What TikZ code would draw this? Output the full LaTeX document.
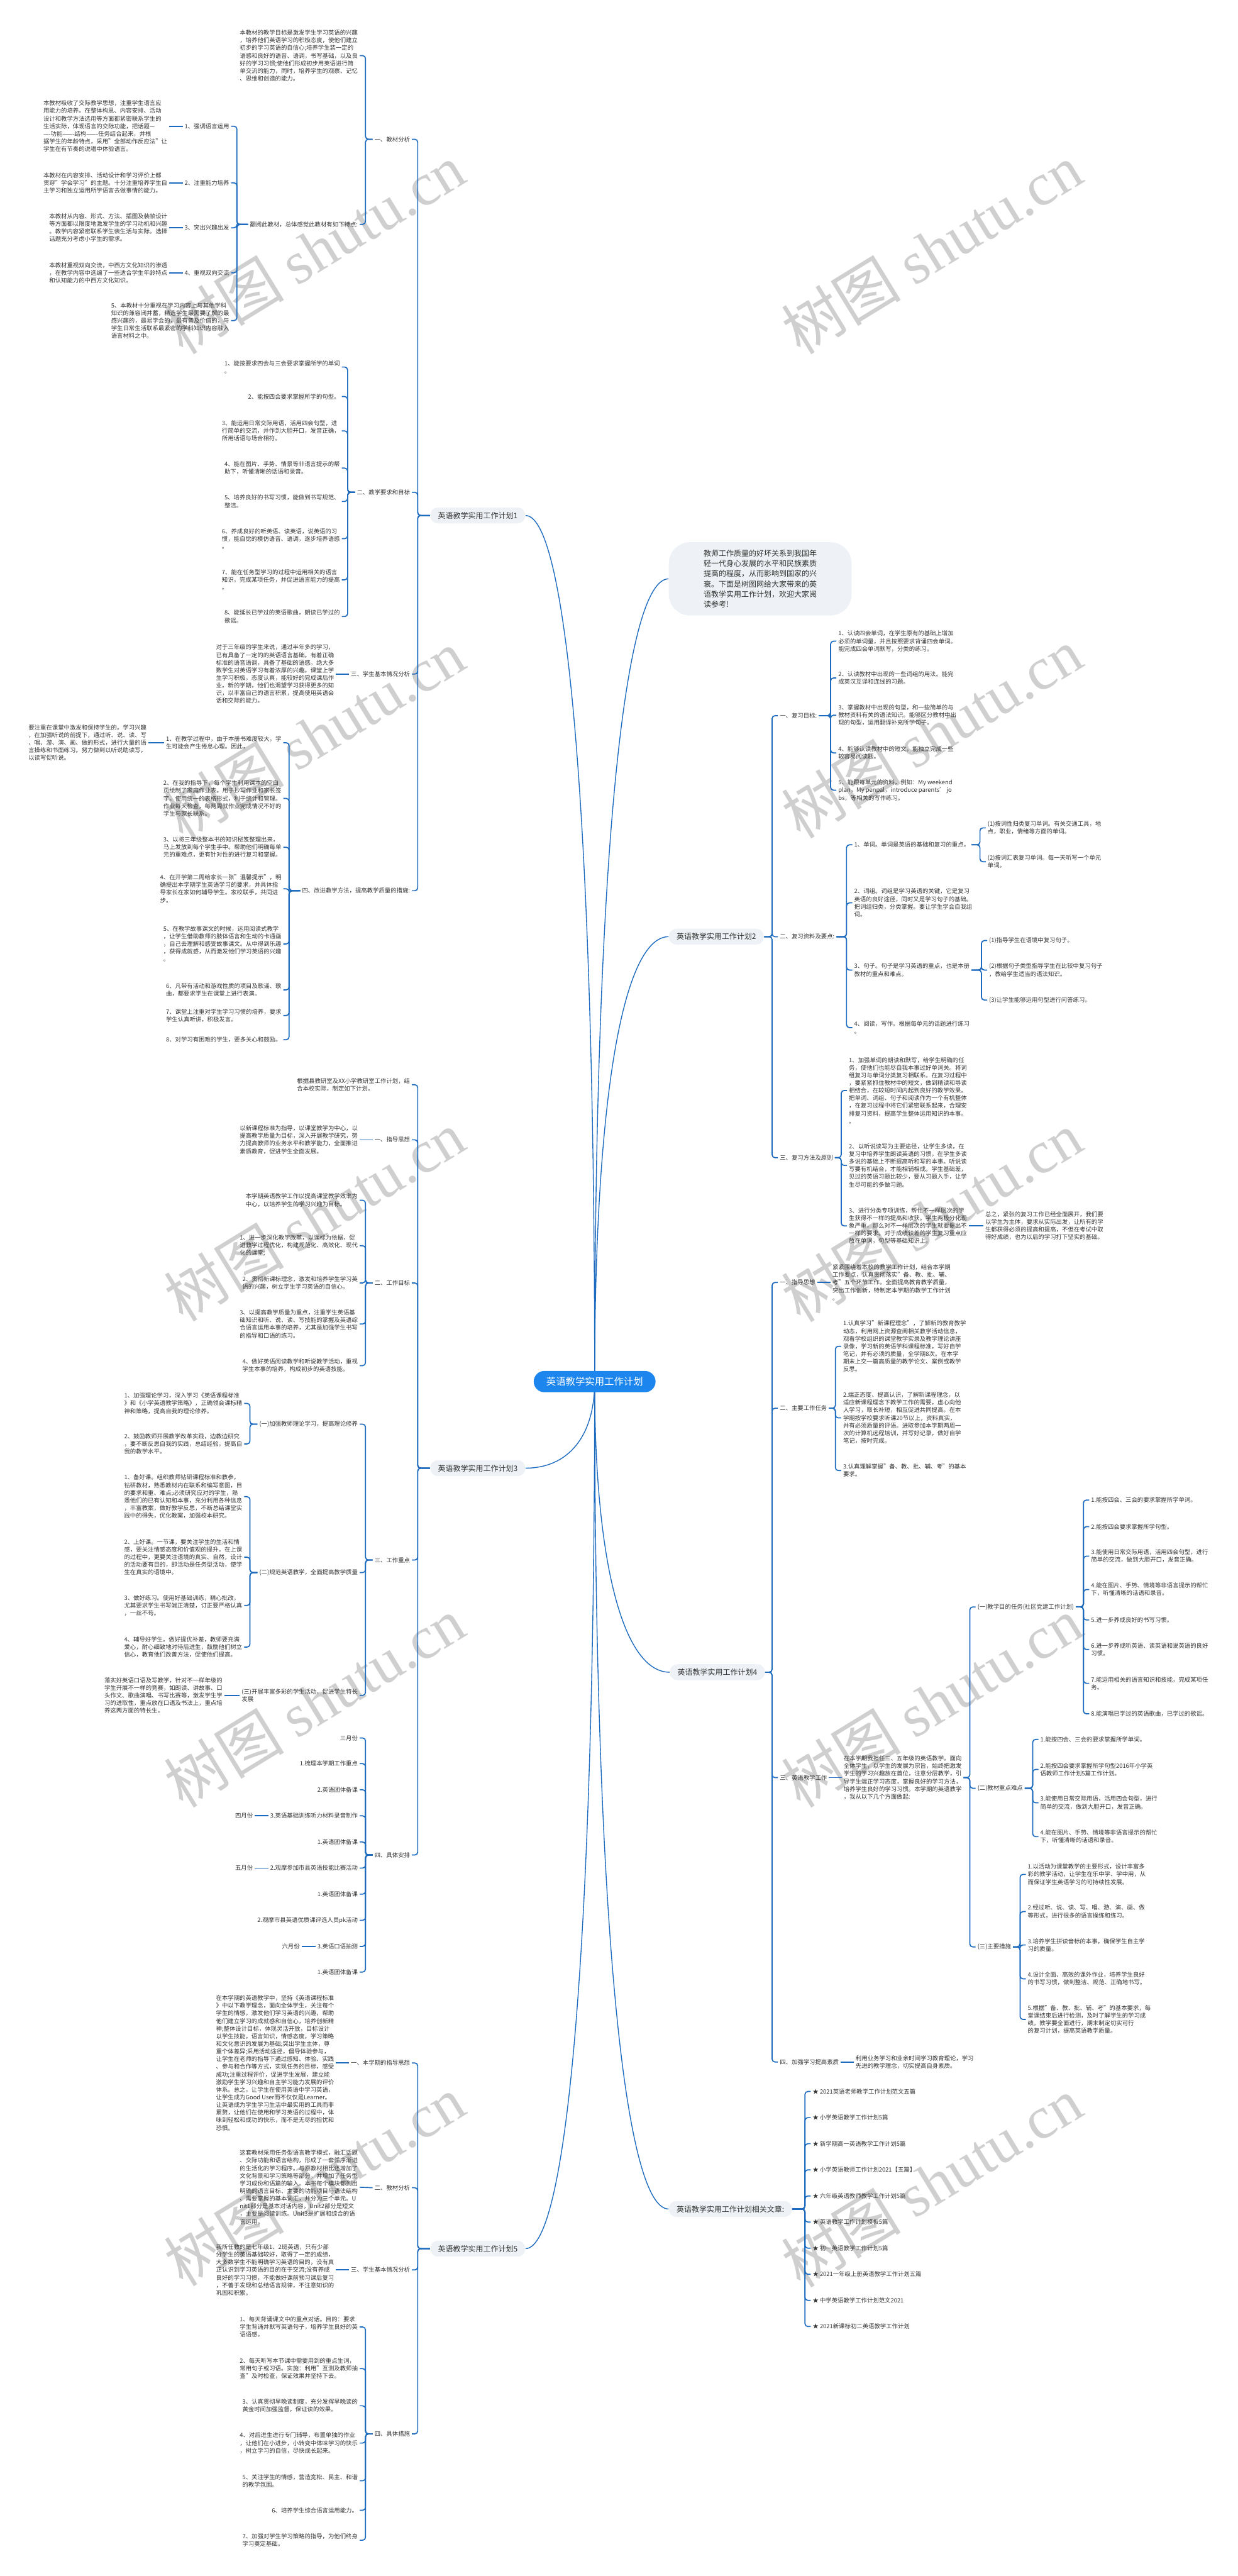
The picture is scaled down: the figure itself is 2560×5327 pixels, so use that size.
\documentclass[tikz,border=0pt]{standalone}
\usepackage{fontspec}
\setmainfont{Noto Sans CJK SC}
\newfontfamily\wmfont{Liberation Serif}
\usepackage{xcolor}
\usepackage{tikz}
\usetikzlibrary{backgrounds}
\definecolor{linkblue}{HTML}{1D6BBF}
\definecolor{rootblue}{HTML}{1C86EE}
\definecolor{boxgray}{HTML}{EEF1F5}
\definecolor{txtgray}{HTML}{333333}
\definecolor{wmgray}{HTML}{CFCFCF}

\begin{document}
\begin{tikzpicture}[x=0.5pt, y=-0.5pt,
    txt/.style={font=\fontsize{6.1pt}{7.9pt}\selectfont, text=txtgray, align=left, inner sep=0pt, outer sep=2pt},
    topicbox/.style={fill=boxgray, rounded corners=8pt, font=\fontsize{7.8pt}{9pt}\selectfont, text=txtgray, inner xsep=8pt, inner ysep=0pt, minimum height=16.5pt},
    introbox/.style={fill=boxgray, rounded corners=22pt, font=\fontsize{7.8pt}{10.5pt}\selectfont, text=txtgray, align=left, inner xsep=36pt, inner ysep=8pt},
    rootbox/.style={fill=rootblue, text=white, rounded corners=11pt, font=\fontsize{10pt}{12pt}\selectfont, inner xsep=13pt, minimum height=22pt},
    conn/.style={draw=linkblue, line width=1.1pt, rounded corners=3pt},
    rootconn/.style={draw=linkblue, line width=0.9pt},
    wmark/.style={text=wmgray, rotate=31.5, inner sep=0pt, font=\fontsize{62pt}{62pt}\selectfont}]
  \useasboundingbox (0,0) rectangle (2560,5327);

  % centre
  \node[rootbox] (root) at (1230,2857) {英语教学实用工作计划};

  % plan 1
  \node[topicbox, anchor=east] (p1) at (1087,1066) {英语教学实用工作计划1};
  \node[txt, anchor=east] (p1a) at (852,288) {一、教材分析};
  \node[txt, anchor=east] (p1b) at (852,1018) {二、教学要求和目标};
  \node[txt, anchor=east] (p1c) at (852,1394) {三、学生基本情况分析};
  \node[txt, anchor=east] (p1d) at (852,1842) {四、改进教学方法，提高教学质量的措施:};
  \node[txt, anchor=east] (p1a1) at (744,115) {本教材的教学目标是激发学生学习英语的兴趣\\，培养他们英语学习的积极态度，使他们建立\\初步的学习英语的自信心;培养学生装一定的\\语感和良好的语音、语调，书写基础，以及良\\好的学习习惯;使他们形成初步用英语进行简\\单交流的能力，同时，培养学生的观察、记忆\\、思维和创造的能力。};
  \node[txt, anchor=east] (p1a2) at (744,464) {翻阅此教材，总体感觉此教材有如下特点:};
  \node[txt, anchor=east] (p1a2a) at (478,261) {1、强调语言运用};
  \node[txt, anchor=east] (p1a2b) at (478,378) {2、注重能力培养};
  \node[txt, anchor=east] (p1a2c) at (478,471) {3、突出兴趣出发};
  \node[txt, anchor=east] (p1a2d) at (478,564) {4、重视双向交流};
  \node[txt, anchor=east] (p1a2e) at (478,663) {5、本教材十分重视在学习内容上与其他学科\\知识的兼容闭并蓄，精选学生最需要了解的最\\感兴趣的，最易学会的，最有普及价值的，与\\学生日常生活联系最紧密的学科知识内容融入\\语言材料之中。};
  \node[txt, anchor=east] (p1a2a1) at (350,261) {本教材吸收了交际教学思想，注重学生语言应\\用能力的培养。在整体构思、内容安排、活动\\设计和教学方法选用等方面都紧密联系学生的\\生活实际，体现语言的交际功能，把话题—\\—-功能——-结构——-任务结合起来，并根\\据学生的年龄特点，采用"全部动作反应法"让\\学生在有节奏的说唱中体验语言。};
  \node[txt, anchor=east] (p1a2b1) at (350,378) {本教材在内容安排、活动设计和学习评价上都\\贯穿"学会学习"的主题。十分注重培养学生自\\主学习和独立运用所学语言去做事情的能力。};
  \node[txt, anchor=east] (p1a2c1) at (350,471) {本教材从内容、形式、方法、插图及装帧设计\\等方面都以限度地激发学生的学习动机和兴趣\\。教学内容紧密联系学生装生活与实际。选择\\话题充分考虑小学生的需求。};
  \node[txt, anchor=east] (p1a2d1) at (350,564) {本教材重视双向交流，中西方文化知识的渗透\\，在教学内容中选编了一些适合学生年龄特点\\和认知能力的中西方文化知识。};
  \node[txt, anchor=east] (p1b1) at (707,759) {1、能按要求四会与三会要求掌握所学的单词\\。};
  \node[txt, anchor=east] (p1b2) at (707,820) {2、能按四会要求掌握所学的句型。};
  \node[txt, anchor=east] (p1b3) at (707,891) {3、能运用日常交际用语，活用四会句型，进\\行简单的交流，并作到大胆开口，发音正确，\\所用话语与场合相符。};
  \node[txt, anchor=east] (p1b4) at (707,968) {4、能在图片、手势、情景等非语言提示的帮\\助下，听懂清晰的话语和录音。};
  \node[txt, anchor=east] (p1b5) at (707,1037) {5、培养良好的书写习惯，能做到书写规范、\\整洁。};
  \node[txt, anchor=east] (p1b6) at (707,1114) {6、养成良好的听英语、读英语，说英语的习\\惯，能自觉的模仿语音、语调，逐步培养语感\\。};
  \node[txt, anchor=east] (p1b7) at (707,1199) {7、能在任务型学习的过程中运用相关的语言\\知识，完成某项任务，并促进语言能力的提高\\。};
  \node[txt, anchor=east] (p1b8) at (707,1275) {8、能延长已学过的英语歌曲，朗读已学过的\\歌谣。};
  \node[txt, anchor=east] (p1c1) at (695,1394) {对于三年级的学生来说，通过半年多的学习，\\已有具备了一定的的英语语言基础。有着正确\\标准的语音语调，具备了基础的语感。绝大多\\数学生对英语学习有着浓厚的兴趣。课堂上学\\生学习积极，态度认真，能较好的完成课后作\\业。新的学期，他们也渴望学习获得更多的知\\识，以丰富自己的语言积累，提高使用英语会\\话和交际的能力。};
  \node[txt, anchor=east] (p1d1) at (586,1536) {1、在教学过程中，由于本册书难度较大，学\\生可能会产生倦怠心理。因此，};
  \node[txt, anchor=east] (p1d1a) at (307,1536) {要注重在课堂中激发和保持学生的。学习兴趣\\，在加强听说的前提下，通过听、说、读、写\\、唱、游、演、画、做的形式，进行大量的语\\言操练和书面练习。努力做到以听说助读写，\\以读写促听说。};
  \node[txt, anchor=east] (p1d2) at (586,1651) {2、在我的指导下，每个学生利用课本的空白\\页绘制了家庭作业表。用于抄写作业和家长签\\字。使用统一的表格形式，利于统计和管理。\\作业每天检查，每两周就作业完成情况不好的\\学生与家长联系。};
  \node[txt, anchor=east] (p1d3) at (586,1752) {3、以将三年级整本书的知识秘笈整理出来，\\马上发放到每个学生手中。帮助他们明确每单\\元的重难点，更有针对性的进行复习和掌握。};
  \node[txt, anchor=east] (p1d4) at (586,1838) {4、在开学第二周给家长一张"温馨提示"，明\\确提出本学期学生英语学习的要求，并具体指\\导家长在家如何辅导学生。家校联手，共同进\\步。};
  \node[txt, anchor=east] (p1d5) at (586,1952) {5、在教学故事课文的时候，运用阅读式教学\\，让学生借助教师的肢体语言和生动的卡通画\\，自己去理解和感受故事课文。从中得到乐趣\\，获得成就感，从而激发他们学习英语的兴趣\\。};
  \node[txt, anchor=east] (p1d6) at (586,2047) {6、凡带有活动和游戏性质的项目及歌谣、歌\\曲，都要求学生在课堂上进行表演。};
  \node[txt, anchor=east] (p1d7) at (586,2100) {7、课堂上注重对学生学习习惯的培养，要求\\学生认真听讲，积极发言。};
  \node[txt, anchor=east] (p1d8) at (586,2150) {8、对学习有困难的学生，要多关心和鼓励。};

  % plan 3
  \node[topicbox, anchor=east] (p3) at (1087,3036) {英语教学实用工作计划3};
  \node[txt, anchor=east] (p3t) at (852,2243) {根据县教研室及XX小学教研室工作计划，结\\合本校实际，制定如下计划。};
  \node[txt, anchor=east] (p3a) at (852,2357) {一、指导思想};
  \node[txt, anchor=east] (p3b) at (852,2653) {二、工作目标};
  \node[txt, anchor=east] (p3c) at (852,3226) {三、工作重点};
  \node[txt, anchor=east] (p3d) at (852,3836) {四、具体安排};
  \node[txt, anchor=east] (p3a1) at (744,2357) {以新课程标准为指导，以课堂教学为中心，以\\提高教学质量为目标，深入开展教学研究，努\\力提高教师的业务水平和教学能力，全面推进\\素质教育，促进学生全面发展。};
  \node[txt, anchor=east] (p3b0) at (744,2482) {本学期英语教学工作以提高课堂教学效率为\\中心，以培养学生的学习兴趣为目标。};
  \node[txt, anchor=east] (p3b1) at (744,2576) {1、进一步深化教学改革，以课标为依据，促\\进教学过程优化，构建规范化、高效化、现代\\化的课堂;};
  \node[txt, anchor=east] (p3b2) at (744,2653) {2、贯彻新课标理念，激发和培养学生学习英\\语的兴趣，树立学生学习英语的自信心。};
  \node[txt, anchor=east] (p3b3) at (744,2738) {3、以提高教学质量为重点，注重学生英语基\\础知识和听、说、读、写技能的掌握及英语综\\合语言运用本事的培养，尤其是加强学生书写\\的指导和口语的练习。};
  \node[txt, anchor=east] (p3b4) at (744,2824) {4、做好英语阅读教学和听说教学活动，重视\\学生本事的培养，构成初步的英语技能。};
  \node[txt, anchor=east] (p3c1) at (744,2945) {(一)加强教师理论学习，提高理论修养};
  \node[txt, anchor=east] (p3c2) at (744,3252) {(二)规范英语教学，全面提高教学质量};
  \node[txt, anchor=east] (p3c3) at (744,3506) {(三)开展丰富多彩的学生活动，促进学生特长\\发展};
  \node[txt, anchor=east] (p3c1a) at (505,2902) {1、加强理论学习，深入学习《英语课程标准\\》和《小学英语教学策略》，正确领会课标精\\神和策略，提高自我的理论修养。};
  \node[txt, anchor=east] (p3c1b) at (505,2986) {2、鼓励教师开展教学改革实践，边教边研究\\，要不断反思自我的实践，总结经验，提高自\\我的教学水平。};
  \node[txt, anchor=east] (p3c2a) at (505,3095) {1、备好课。组织教师钻研课程标准和教参，\\钻研教材，熟悉教材内在联系和编写意图，目\\的要求和重、难点;必须研究应对的学生，熟\\悉他们的已有认知和本事，充分利用各种信息\\，丰富教案，做好教学反思，不断总结课堂实\\践中的得失，优化教案，加强校本研究。};
  \node[txt, anchor=east] (p3c2b) at (505,3220) {2、上好课。一节课，要关注学生的生活和情\\感，要关注情感态度和价值观的提升。在上课\\的过程中，更要关注语境的真实、自然，设计\\的活动要有目的，即活动是任务型活动，使学\\生在真实的语境中。};
  \node[txt, anchor=east] (p3c2c) at (505,3320) {3、做好练习。使用好基础训练，精心批改，\\尤其要求学生书写端正清楚，订正要严格认真\\，一丝不苟。};
  \node[txt, anchor=east] (p3c2d) at (505,3406) {4、辅导好学生。做好提优补差，教师要充满\\爱心，耐心细致地对待后进生，鼓励他们树立\\信心，教育他们改善方法，促使他们提高。};
  \node[txt, anchor=east] (p3c3a) at (464,3506) {落实好英语口语及写教学，针对不一样年级的\\学生开展不一样的竞赛，如朗读、讲故事、口\\头作文、歌曲演唱、书写比赛等，激发学生学\\习的进取性，重点放在口语及书法上，重点培\\养这两方面的特长生。};
  \node[txt, anchor=east] (p3d1) at (744,3594) {三月份};
  \node[txt, anchor=east] (p3d2) at (744,3647) {1.梳理本学期工作重点};
  \node[txt, anchor=east] (p3d3) at (744,3701) {2.英语团体备课};
  \node[txt, anchor=east] (p3d4) at (744,3755) {3.英语基础训练听力材料录音制作};
  \node[txt, anchor=east] (p3d5) at (744,3809) {1.英语团体备课};
  \node[txt, anchor=east] (p3d6) at (744,3863) {2.观摩参加市县英语技能比赛活动};
  \node[txt, anchor=east] (p3d7) at (744,3917) {1.英语团体备课};
  \node[txt, anchor=east] (p3d8) at (744,3971) {2.观摩市县英语优质课评选人员pk活动};
  \node[txt, anchor=east] (p3d9) at (744,4025) {3.英语口语抽测};
  \node[txt, anchor=east] (p3d10) at (744,4078) {1.英语团体备课};
  \node[txt, anchor=east] (p3d4a) at (527,3755) {四月份};
  \node[txt, anchor=east] (p3d6a) at (527,3863) {五月份};
  \node[txt, anchor=east] (p3d9a) at (624,4025) {六月份};

  % plan 5
  \node[topicbox, anchor=east] (p5) at (1087,4650) {英语教学实用工作计划5};
  \node[txt, anchor=east] (p5a) at (852,4266) {一、本学期的指导思想};
  \node[txt, anchor=east] (p5b) at (852,4524) {二、教材分析};
  \node[txt, anchor=east] (p5c) at (852,4694) {三、学生基本情况分析};
  \node[txt, anchor=east] (p5d) at (852,5033) {四、具体措施};
  \node[txt, anchor=east] (p5a1) at (695,4266) {在本学期的英语教学中，坚持《英语课程标准\\》中以下教学理念，面向全体学生，关注每个\\学生的情感，激发他们学习英语的兴趣，帮助\\他们建立学习的成就感和自信心，培养创新精\\神;整体设计目标，体现灵活开放，目标设计\\以学生技能，语言知识，情感态度，学习策略\\和文化意识的发展为基础;突出学生主体，尊\\重个体差异;采用活动途径，倡导体验参与，\\让学生在老师的指导下通过感知、体验、实践\\、参与和合作等方式，实现任务的目标，感受\\成功;注重过程评价，促进学生发展，建立能\\激励学生学习兴趣和自主学习能力发展的评价\\体系。总之，让学生在使用英语中学习英语，\\让学生成为Good User而不仅仅是Learner。\\让英语成为学生学习生活中最实用的工具而非\\累赘，让他们在使用和学习英语的过程中，体\\味到轻松和成功的快乐，而不是无尽的担忧和\\恐惧。};
  \node[txt, anchor=east] (p5b1) at (744,4523) {这套教材采用任务型语言教学模式，融汇话题\\、交际功能和语言结构，形成了一套循序渐进\\的生活化的学习程序。与原教材相比还增加了\\文化背景和学习策略等部分，并增加了任务型\\学习成份和语篇的输入。本书每个模块都列出\\明确的语言目标、主要的功能项目与语法结构\\、需要掌握的基本词汇，并分为三个单元。U\\nit1部分是基本对话内容，Unit2部分是短文\\，主要是阅读训练。Unit3是扩展和综合的语\\言运用。};
  \node[txt, anchor=east] (p5c1) at (695,4694) {我所任教的是七年级1、2班英语，只有少部\\分学生的英语基础较好，取得了一定的成绩，\\大多数学生不能明确学习英语的目的，没有真\\正认识到学习英语的目的在于交流;没有养成\\良好的学习习惯，不能做好课前预习课后复习\\，不善于发现和总结语言规律，不注意知识的\\巩固和积累。};
  \node[txt, anchor=east] (p5d1) at (744,4812) {1、每天背诵课文中的重点对话。目的：要求\\学生背诵并默写英语句子，培养学生良好的英\\语语感。};
  \node[txt, anchor=east] (p5d2) at (744,4898) {2、每天听写本节课中需要用到的重点生词，\\常用句子或习语。实施：利用"互测及教师抽\\查"及时检查，保证效果并坚持下去。};
  \node[txt, anchor=east] (p5d3) at (744,4975) {3、认真贯彻早晚读制度，充分发挥早晚读的\\黄金时间加强监督，保证读的效果。};
  \node[txt, anchor=east] (p5d4) at (744,5052) {4、对后进生进行专门辅导，布置单独的作业\\，让他们在小进步，小转变中体味学习的快乐\\，树立学习的自信，尽快成长起来。};
  \node[txt, anchor=east] (p5d5) at (744,5130) {5、关注学生的情感，营造宽松、民主、和谐\\的教学氛围。};
  \node[txt, anchor=east] (p5d6) at (744,5191) {6、培养学生综合语言运用能力。};
  \node[txt, anchor=east] (p5d7) at (744,5253) {7、加强对学生学习策略的指导，为他们终身\\学习奠定基础。};

  % intro
  \node[introbox, anchor=west] (intro) at (1383,1197) {教师工作质量的好坏关系到我国年\\轻一代身心发展的水平和民族素质\\提高的程度，从而影响到国家的兴\\衰。下面是树图网给大家带来的英\\语教学实用工作计划，欢迎大家阅\\读参考!};

  % plan 2
  \node[topicbox, anchor=west] (p2) at (1383,1937) {英语教学实用工作计划2};
  \node[txt, anchor=west] (p2a) at (1609,1480) {一、复习目标:};
  \node[txt, anchor=west] (p2b) at (1609,1937) {二、复习资料及要点:};
  \node[txt, anchor=west] (p2c) at (1609,2394) {三、复习方法及原则};
  \node[txt, anchor=west] (p2a1) at (1730,1326) {1、认读四会单词，在学生原有的基础上增加\\必须的单词量，并且按照要求背诵四会单词。\\能完成四会单词默写，分类的练习。};
  \node[txt, anchor=west] (p2a2) at (1730,1402) {2、认读教材中出现的一些词组的用法。能完\\成英汉互译和连线的习题。};
  \node[txt, anchor=west] (p2a3) at (1730,1479) {3、掌握教材中出现的句型，和一些简单的与\\教材资料有关的语法知识。能够区分教材中出\\现的句型，运用翻译补充所学句子。};
  \node[txt, anchor=west] (p2a4) at (1730,1557) {4、能够认读教材中的短文，能独立完成一些\\较容易阅读题。};
  \node[txt, anchor=west] (p2a5) at (1730,1634) {5、能跟每单元的资料，例如：My weekend\\plan，My penpal，introduce parents’ jo\\bs，等相关的写作练习。};
  \node[txt, anchor=west] (p2b1) at (1763,1747) {1、单词。单词是英语的基础和复习的重点。};
  \node[txt, anchor=west] (p2b2) at (1763,1867) {2、词组。词组是学习英语的关键，它是复习\\英语的良好途径，同时又是学习句子的基础。\\把词组归类，分类掌握。要让学生学会自我组\\词。};
  \node[txt, anchor=west] (p2b3) at (1763,2006) {3、句子。句子是学习英语的重点，也是本册\\教材的重点和难点。};
  \node[txt, anchor=west] (p2b4) at (1763,2125) {4、阅读，写作。根据每单元的话题进行练习\\。};
  \node[txt, anchor=west] (p2b1a) at (2039,1712) {(1)按词性归类复习单词。有关交通工具，地\\点，职业，情绪等方面的单词。};
  \node[txt, anchor=west] (p2b1b) at (2039,1782) {(2)按词汇表复习单词。每一天听写一个单元\\单词。};
  \node[txt, anchor=west] (p2b3a) at (2042,1945) {(1)指导学生在语境中复习句子。};
  \node[txt, anchor=west] (p2b3b) at (2042,2006) {(2)根据句子类型指导学生在比较中复习句子\\，教给学生适当的语法知识。};
  \node[txt, anchor=west] (p2b3c) at (2042,2068) {(3)让学生能够运用句型进行问答练习。};
  \node[txt, anchor=west] (p2c1) at (1752,2255) {1、加强单词的朗读和默写，给学生明确的任\\务，使他们也能尽自我本事过好单词关。将词\\组复习与单词分类复习相联系。在复习过程中\\，要紧紧抓住教材中的短文，做到精读和导读\\相结合，在较短时间内起到良好的教学效果。\\把单词、词组、句子和阅读作为一个有机整体\\，在复习过程中将它们紧密联系起来，合理安\\排复习资料，提高学生整体运用知识的本事。\\。};
  \node[txt, anchor=west] (p2c2) at (1752,2410) {2、以听说读写为主要途径，让学生多读，在\\复习中培养学生朗读英语的习惯，在学生多读\\多说的基础上不断提高听和写的本事。听说读\\写要有机结合，才能相辅相成。学生基础差，\\见过的英语习题比较少，要从习题入手，让学\\生尽可能的多做习题。};
  \node[txt, anchor=west] (p2c3) at (1752,2535) {3、进行分类专项训练，帮忙不一样层次的学\\生获得不一样的提高和收获。学生两极分化现\\象严重，那么对不一样层次的学生就要提出不\\一样的要求。对于成绩较差的学生复习重点应\\放在单词，句型等基础知识上。};
  \node[txt, anchor=west] (p2c3a) at (2034,2535) {总之，紧张的复习工作已经全面展开，我们要\\以学生为主体，要求从实际出发，让所有的学\\生都获得必须的提高和提高，不但在考试中取\\得好成绩，也为以后的学习打下坚实的基础。};

  % plan 4
  \node[topicbox, anchor=west] (p4) at (1385,3458) {英语教学实用工作计划4};
  \node[txt, anchor=west] (p4a) at (1609,2652) {一、指导思想};
  \node[txt, anchor=west] (p4b) at (1609,2912) {二、主要工作任务};
  \node[txt, anchor=west] (p4c) at (1609,3676) {三、英语教学工作};
  \node[txt, anchor=west] (p4d) at (1609,4264) {四、加强学习提高素质};
  \node[txt, anchor=west] (p4a1) at (1718,2652) {紧紧围绕着本校的教学工作计划，结合本学期\\工作要点，认真贯彻落实"备、教、批、辅、\\考"五个环节工作。全面提高教育教学质量，\\突出工作创新，特制定本学期的教学工作计划\\。};
  \node[txt, anchor=west] (p4b1) at (1740,2784) {1.认真学习"新课程理念"，了解新的教育教学\\动态，利用网上资源查阅相关教学活动信息，\\观看学校组织的课堂教学实录及教学理论讲座\\录像，学习新的英语学科课程标准，写好自学\\笔记，并有必须的质量，全学期8次。在本学\\期末上交一篇高质量的教学论文、案例或教学\\反思。};
  \node[txt, anchor=west] (p4b2) at (1740,2932) {2.端正态度、提高认识，了解新课程理念，以\\适应新课程理念下教学工作的需要，虚心向他\\人学习，取长补短，相互促进共同提高。在本\\学期按学校要求听课20节以上，资料真实，\\并有必须质量的评语。进取参加本学期两周一\\次的计算机远程培训，并写好记录，做好自学\\笔记，按时完成。};
  \node[txt, anchor=west] (p4b3) at (1740,3041) {3.认真理解掌握"备、教、批、辅、考"的基本\\要求。};
  \node[txt, anchor=west] (p4c1) at (1741,3676) {在本学期我担任三、五年级的英语教学。面向\\全体学生，以学生的发展为宗旨，始终把激发\\学生的学习兴趣放在首位，注意分层教学，引\\导学生端正学习态度，掌握良好的学习方法，\\培养学生良好的学习习惯。本学期的英语教学\\，我从以下几个方面做起:};
  \node[txt, anchor=west] (p4c1a) at (2018,3323) {(一)教学目的任务(社区党建工作计划)};
  \node[txt, anchor=west] (p4c1b) at (2018,3698) {(二)教材重点难点};
  \node[txt, anchor=west] (p4c1c) at (2018,4026) {(三)主要措施};
  \node[txt, anchor=west] (p4c1a1) at (2253,3102) {1.能按四会、三会的要求掌握所学单词。};
  \node[txt, anchor=west] (p4c1a2) at (2253,3157) {2.能按四会要求掌握所学句型。};
  \node[txt, anchor=west] (p4c1a3) at (2253,3218) {3.能使用日常交际用语，活用四会句型，进行\\简单的交流，做到大胆开口，发音正确。};
  \node[txt, anchor=west] (p4c1a4) at (2253,3287) {4.能在图片、手势、情境等非语言提示的帮忙\\下，听懂清晰的话语和录音。};
  \node[txt, anchor=west] (p4c1a5) at (2253,3350) {5.进一步养成良好的书写习惯。};
  \node[txt, anchor=west] (p4c1a6) at (2253,3411) {6.进一步养成听英语、读英语和说英语的良好\\习惯。};
  \node[txt, anchor=west] (p4c1a7) at (2253,3481) {7.能运用相关的语言知识和技能，完成某项任\\务。};
  \node[txt, anchor=west] (p4c1a8) at (2253,3544) {8.能演唱已学过的英语歌曲，已学过的歌谣。};
  \node[txt, anchor=west] (p4c1b1) at (2148,3597) {1.能按四会、三会的要求掌握所学单词。};
  \node[txt, anchor=west] (p4c1b2) at (2148,3659) {2.能按四会要求掌握所学句型2016年小学英\\语教师工作计划5篇工作计划。};
  \node[txt, anchor=west] (p4c1b3) at (2148,3728) {3.能使用日常交际用语，活用四会句型，进行\\简单的交流，做到大胆开口，发音正确。};
  \node[txt, anchor=west] (p4c1b4) at (2148,3798) {4.能在图片、手势、情境等非语言提示的帮忙\\下，听懂清晰的话语和录音。};
  \node[txt, anchor=west] (p4c1c1) at (2122,3876) {1.以活动为课堂教学的主要形式，设计丰富多\\彩的教学活动，让学生在乐中学、学中用，从\\而保证学生英语学习的可持续性发展。};
  \node[txt, anchor=west] (p4c1c2) at (2122,3953) {2.经过听、说、读、写、唱、游、演、画、做\\等形式，进行很多的语言操练和练习。};
  \node[txt, anchor=west] (p4c1c3) at (2122,4022) {3.培养学生拼读音标的本事，确保学生自主学\\习的质量。};
  \node[txt, anchor=west] (p4c1c4) at (2122,4092) {4.设计全面、高效的课外作业，培养学生良好\\的书写习惯，做到整洁、规范、正确地书写。};
  \node[txt, anchor=west] (p4c1c5) at (2122,4176) {5.根据"备、教、批、辅、考"的基本要求，每\\堂课结束后进行检测，及时了解学生的学习成\\绩。教学要全面进行，期末制定切实可行\\的复习计划，提高英语教学质量。};
  \node[txt, anchor=west] (p4d1) at (1766,4264) {利用业务学习和业余时间学习教育理论，学习\\先进的教学理念，切实提高自身素质。};

  % related articles
  \node[topicbox, anchor=west] (rel) at (1383,4568) {英语教学实用工作计划相关文章:};
  \foreach \t [count=\i] in {2021英语老师教学工作计划范文五篇, 小学英语教学工作计划5篇, 新学期高一英语教学工作计划5篇, 小学英语教师工作计划2021【五篇】, 六年级英语教师教学工作计划5篇, 英语教学工作计划模板5篇, 初一英语教学工作计划5篇, 2021一年级上册英语教学工作计划五篇, 中学英语教学工作计划范文2021, 2021新课标初二英语教学工作计划}
    \node[txt, anchor=west] (rel\i) at (1677,4271+54*\i) {★ \t};

  \begin{scope}[on background layer]
    \fill[white] (0,0) rectangle (2560,5327);
    % watermarks
    \foreach \wx/\wy [count=\i] in {650/515, 650/1520, 650/2515, 650/3520, 650/4510, 1927/515, 1927/1516, 1927/2516, 1927/3520, 1927/4512}
      \node[wmark] (wm\i) at (\wx,\wy) {树图 {\wmfont shutu.cn}};
    % centre to topics
    \draw[rootconn] (root.center) .. controls +(0,-1160) and +(86,0) .. (p1.east);
    \draw[rootconn] (root.center) .. controls +(0,-1080) and +(-92,0) .. (intro.west);
    \draw[rootconn] (root.center) .. controls +(0,-600) and +(-92,0) .. (p2.west);
    \draw[rootconn] (root.center) .. controls +(0,116) and +(86,0) .. (p3.east);
    \draw[rootconn] (root.center) .. controls +(0,390) and +(-92,0) .. (p4.west);
    \draw[rootconn] (root.center) .. controls +(0,1110) and +(-92,0) .. (rel.west);
    \draw[rootconn] (root.center) .. controls +(0,1165) and +(86,0) .. (p5.east);
    % left side brackets
    \foreach \c in {p1a,p1b,p1c,p1d} \draw[conn] (\c.east) -- ++(12,0) |- (p1.west);
    \foreach \c in {p1a1,p1a2} \draw[conn] (\c.east) -- ++(12,0) |- (p1a.west);
    \foreach \c in {p1a2a,p1a2b,p1a2c,p1a2d,p1a2e} \draw[conn] (\c.east) -- ++(12,0) |- (p1a2.west);
    \foreach \c/\p in {p1a2a1/p1a2a,p1a2b1/p1a2b,p1a2c1/p1a2c,p1a2d1/p1a2d,p1c1/p1c,p1d1a/p1d1} \draw[conn] (\c.east) -- (\p.west);
    \foreach \c in {p1b1,p1b2,p1b3,p1b4,p1b5,p1b6,p1b7,p1b8} \draw[conn] (\c.east) -- ++(12,0) |- (p1b.west);
    \foreach \c in {p1d1,p1d2,p1d3,p1d4,p1d5,p1d6,p1d7,p1d8} \draw[conn] (\c.east) -- ++(12,0) |- (p1d.west);
    \foreach \c in {p3t,p3a,p3b,p3c,p3d} \draw[conn] (\c.east) -- ++(12,0) |- (p3.west);
    \foreach \c in {p3b0,p3b1,p3b2,p3b3,p3b4} \draw[conn] (\c.east) -- ++(12,0) |- (p3b.west);
    \foreach \c in {p3c1,p3c2,p3c3} \draw[conn] (\c.east) -- ++(12,0) |- (p3c.west);
    \foreach \c in {p3c1a,p3c1b} \draw[conn] (\c.east) -- ++(12,0) |- (p3c1.west);
    \foreach \c in {p3c2a,p3c2b,p3c2c,p3c2d} \draw[conn] (\c.east) -- ++(12,0) |- (p3c2.west);
    \foreach \c in {p3d1,p3d2,p3d3,p3d4,p3d5,p3d6,p3d7,p3d8,p3d9,p3d10} \draw[conn] (\c.east) -- ++(12,0) |- (p3d.west);
    \foreach \c/\p in {p3a1/p3a,p3c3a/p3c3,p3d4a/p3d4,p3d6a/p3d6,p3d9a/p3d9} \draw[conn] (\c.east) -- (\p.west);
    \foreach \c in {p5a,p5b,p5c,p5d} \draw[conn] (\c.east) -- ++(12,0) |- (p5.west);
    \foreach \c/\p in {p5a1/p5a,p5b1/p5b,p5c1/p5c} \draw[conn] (\c.east) -- (\p.west);
    \foreach \c in {p5d1,p5d2,p5d3,p5d4,p5d5,p5d6,p5d7} \draw[conn] (\c.east) -- ++(12,0) |- (p5d.west);
    % right side brackets
    \foreach \c in {p2a,p2b,p2c} \draw[conn] (\c.west) -- ++(-12,0) |- (p2.east);
    \foreach \c in {p2a1,p2a2,p2a3,p2a4,p2a5} \draw[conn] (\c.west) -- ++(-12,0) |- (p2a.east);
    \foreach \c in {p2b1,p2b2,p2b3,p2b4} \draw[conn] (\c.west) -- ++(-12,0) |- (p2b.east);
    \foreach \c in {p2b1a,p2b1b} \draw[conn] (\c.west) -- ++(-12,0) |- (p2b1.east);
    \foreach \c in {p2b3a,p2b3b,p2b3c} \draw[conn] (\c.west) -- ++(-12,0) |- (p2b3.east);
    \foreach \c in {p2c1,p2c2,p2c3} \draw[conn] (\c.west) -- ++(-12,0) |- (p2c.east);
    \draw[conn] (p2c3a.west) -- (p2c3.east);
    \foreach \c in {p4a,p4b,p4c,p4d} \draw[conn] (\c.west) -- ++(-12,0) |- (p4.east);
    \foreach \c/\p in {p4a1/p4a,p4c1/p4c,p4d1/p4d} \draw[conn] (\c.west) -- (\p.east);
    \foreach \c in {p4b1,p4b2,p4b3} \draw[conn] (\c.west) -- ++(-12,0) |- (p4b.east);
    \foreach \c in {p4c1a,p4c1b,p4c1c} \draw[conn] (\c.west) -- ++(-12,0) |- (p4c1.east);
    \foreach \c in {p4c1a1,p4c1a2,p4c1a3,p4c1a4,p4c1a5,p4c1a6,p4c1a7,p4c1a8} \draw[conn] (\c.west) -- ++(-12,0) |- (p4c1a.east);
    \foreach \c in {p4c1b1,p4c1b2,p4c1b3,p4c1b4} \draw[conn] (\c.west) -- ++(-12,0) |- (p4c1b.east);
    \foreach \c in {p4c1c1,p4c1c2,p4c1c3,p4c1c4,p4c1c5} \draw[conn] (\c.west) -- ++(-12,0) |- (p4c1c.east);
    \foreach \i in {1,...,10} \draw[conn] (rel\i.west) -- ++(-12,0) |- (rel.east);
  \end{scope}
\end{tikzpicture}
\end{document}
